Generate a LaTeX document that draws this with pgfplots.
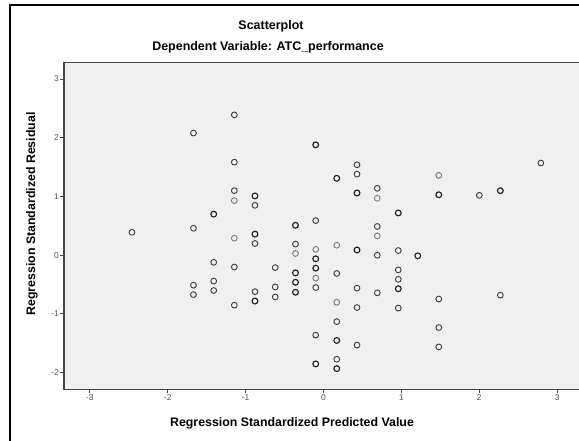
\documentclass[border=0pt]{standalone}
\usepackage{pgfplots}
\pgfplotsset{compat=1.18}
\usepackage{fontspec}
\setmainfont{Liberation Sans}
\definecolor{bgc}{HTML}{F0F0F0}
\definecolor{axc}{HTML}{444444}
\definecolor{tkc}{HTML}{555555}
\definecolor{mkn}{HTML}{3A3A3A}
\definecolor{mkb}{HTML}{1A1A1A}
\definecolor{mkg}{HTML}{7A7A7A}
\begin{document}
\begin{tikzpicture}[x=1bp,y=1bp]
\useasboundingbox (0,0) rectangle (579,441);
\fill[white] (0,0) rectangle (579,441);
\begin{axis}[
  at={(64bp,51.7bp)}, anchor=south west,
  scale only axis, width=517bp, height=327bp,
  xmin=-3.332, xmax=3.306, ymin=-2.282, ymax=3.285,
  axis background/.style={fill=bgc},
  axis line style={axc, line width=1.1bp},
  xtick={-3,-2,-1,0,1,2,3}, ytick={-2,-1,0,1,2,3},
  xtick pos=bottom, ytick pos=left, tick align=outside,
  major tick length=4bp,
  every tick/.style={axc, line width=1bp},
  tick label style={font=\fontsize{8.5}{9}\selectfont, text=tkc},
  /pgf/number format/assume math mode=true,
  xticklabel style={inner sep=1bp, yshift=0bp},
  yticklabel style={inner sep=1bp},
  clip=false,
]
\addplot[only marks, mark=o, mark size=2.9bp, mark options={mkn, line width=0.9bp}] coordinates {
(-2.46,0.39) (-1.67,2.08) (-1.67,0.46) (-1.67,-0.51) (-1.67,-0.67)
(-1.145,2.39) (-1.145,1.585) (-1.145,1.10) (-1.145,-0.20) (-1.145,-0.85)
(-1.41,-0.12) (-1.41,-0.44) (-1.41,-0.60)
(-0.88,0.85) (-0.88,0.20) (-0.88,-0.62)
(-0.62,-0.21) (-0.62,-0.54) (-0.62,-0.71)
(-0.36,0.19)
(-0.1,0.59) (-0.1,-0.55) (-0.1,-1.36)
(0.17,-0.31) (0.17,-1.13) (0.17,-1.77)
(0.43,1.54) (0.43,1.38) (0.43,-0.56) (0.43,-0.89) (0.43,-1.53)
(0.69,1.14) (0.69,0.49) (0.69,0.0) (0.69,-0.64)
(0.96,0.08) (0.96,-0.25) (0.96,-0.41) (0.96,-0.90)
(1.48,-0.745) (1.48,-1.23) (1.48,-1.56)
(2.0,1.02) (2.27,-0.68) (2.79,1.57)
};
\addplot[only marks, mark=o, mark size=2.9bp, mark options={mkb, line width=1.1bp}] coordinates {
(-0.1,1.88) (0.17,1.31) (-0.88,1.01) (-0.88,0.36) (-0.88,-0.78)
(-1.41,0.70) (-0.36,0.51) (-0.36,-0.30) (-0.36,-0.46) (-0.36,-0.63)
(-0.1,-0.06) (-0.1,-0.22) (-0.1,-1.85) (0.17,-1.45) (0.17,-1.93)
(0.43,1.06) (0.43,0.09) (0.96,0.72) (0.96,-0.57) (1.21,-0.01)
(1.48,1.03) (2.27,1.10)
};
\addplot[only marks, mark=o, mark size=2.9bp, mark options={mkg, line width=0.9bp}] coordinates {
(-1.145,0.93) (-1.145,0.29) (-0.36,0.03) (-0.1,0.10) (-0.1,-0.39)
(0.17,0.17) (0.17,-0.80) (0.69,0.97) (0.69,0.33) (1.48,1.36)
};
\end{axis}
\draw[black, line width=2bp] (10,-5) -- (10,436) -- (590,436);
\node[font=\bfseries\fontsize{12.5}{15}\selectfont] at (271,415) {Scatterplot};
\node[font=\bfseries\fontsize{12.5}{15}\selectfont] at (268,394) {Dependent Variable: ATC\_performance};
\node[font=\bfseries\fontsize{12.4}{15}\selectfont] at (292,18) {Regression Standardized Predicted Value};
\node[font=\bfseries\fontsize{12.4}{15}\selectfont, rotate=90] at (32,227) {Regression Standardized Residual};
\end{tikzpicture}
\end{document}
